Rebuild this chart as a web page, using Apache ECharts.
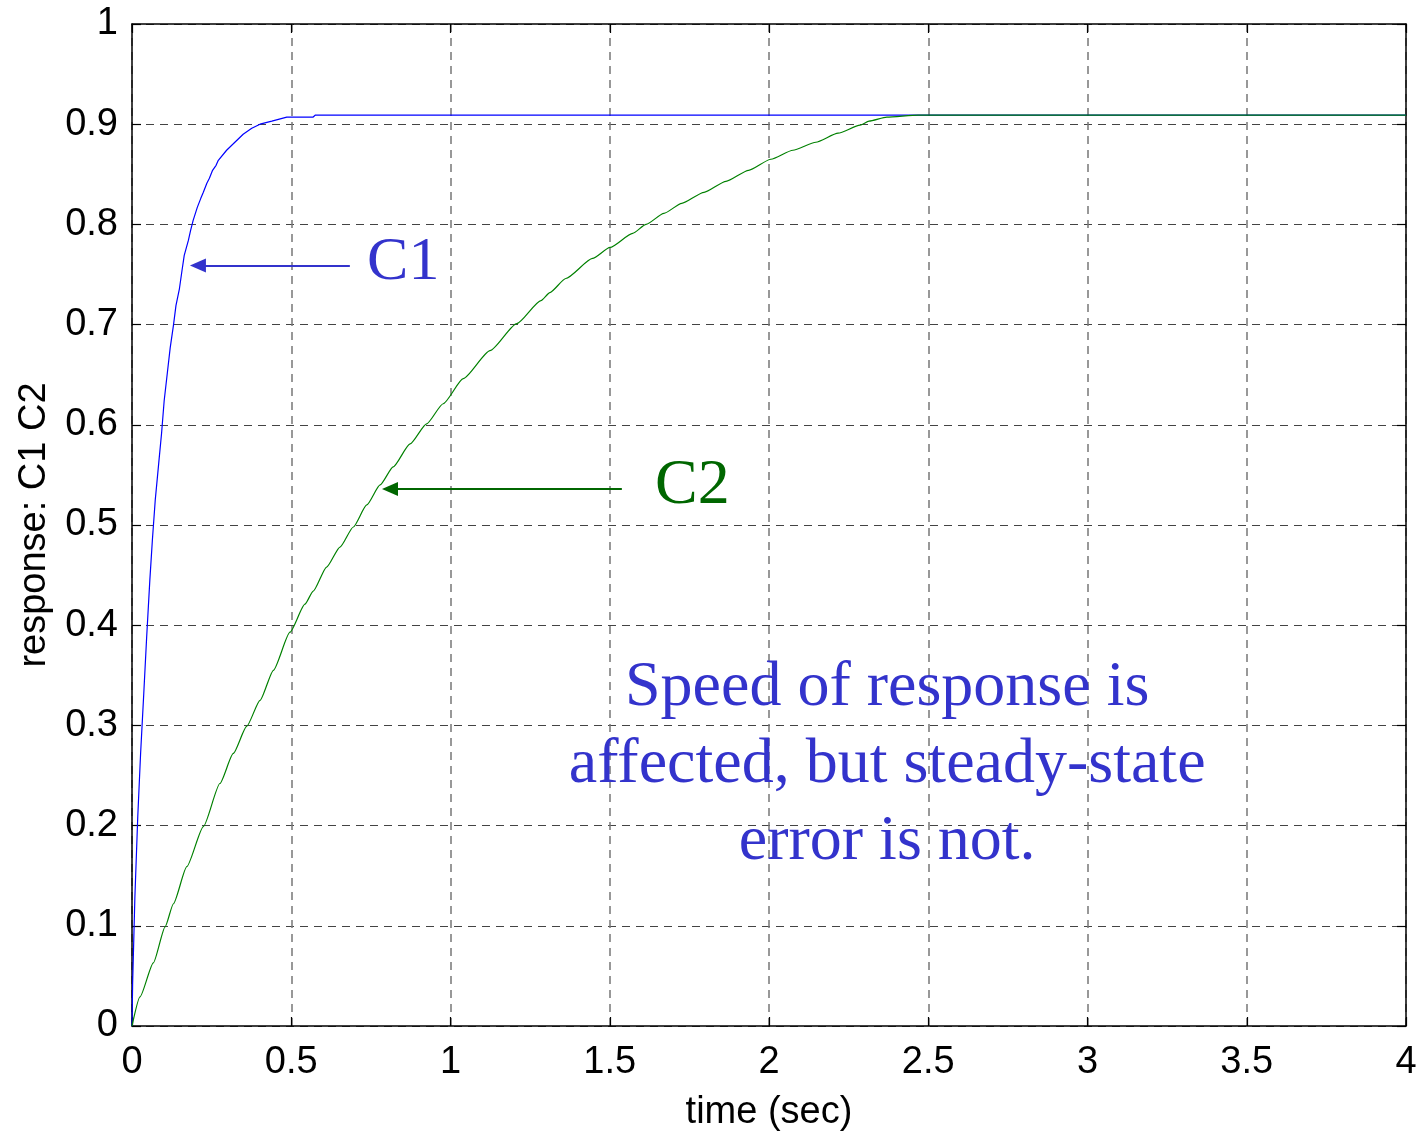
<!DOCTYPE html>
<html>
<head>
<meta charset="utf-8">
<script src="https://cdn.jsdelivr.net/npm/echarts@6/dist/echarts.min.js"></script>
<style>
html,body{margin:0;padding:0;background:#ffffff;}
#c{width:1426px;height:1133px;}
</style>
</head>
<body>
<div id="c"></div>
<script>
// ---- tick labels ----
const xTickLabels = ['0','0.5','1','1.5','2','2.5','3','3.5','4'];
const yTickLabels = ['0','0.1','0.2','0.3','0.4','0.5','0.6','0.7','0.8','0.9','1'];

// ---- series C1 ----
const c1Time = [0, 0.002, 0.009, 0.018, 0.027, 0.037, 0.046, 0.056, 0.064, 0.073, 0.084, 0.093, 0.101, 0.111, 0.120, 0.130, 0.138, 0.149, 0.157, 0.164, 0.177, 0.184, 0.192, 0.205, 0.216, 0.224, 0.235, 0.243, 0.253, 0.264, 0.271, 0.297, 0.323, 0.349, 0.376, 0.402, 0.439, 0.486, 0.568, 0.575, 4];
const c1Value = [0, 0.043, 0.128, 0.208, 0.272, 0.332, 0.388, 0.445, 0.485, 0.525, 0.562, 0.592, 0.624, 0.652, 0.677, 0.699, 0.719, 0.736, 0.754, 0.769, 0.784, 0.794, 0.804, 0.817, 0.826, 0.832, 0.841, 0.846, 0.854, 0.859, 0.864, 0.874, 0.882, 0.890, 0.896, 0.900, 0.903, 0.907, 0.907, 0.909, 0.909];

// ---- series C2 ----
const c2Time = [0, 0.025, 0.067, 0.104, 0.130, 0.172, 0.224, 0.276, 0.318, 0.360, 0.402, 0.444, 0.496, 0.543, 0.569, 0.611, 0.653, 0.695, 0.737, 0.779, 0.820, 0.873, 0.925, 0.977, 1.040, 1.124, 1.208, 1.284, 1.312, 1.362, 1.446, 1.501, 1.572, 1.614, 1.670, 1.726, 1.796, 1.865, 1.936, 2.006, 2.075, 2.147, 2.217, 2.286, 2.314, 2.370, 2.468, 4];
const c2Value = [0, 0.029, 0.063, 0.099, 0.122, 0.159, 0.199, 0.242, 0.272, 0.299, 0.325, 0.355, 0.393, 0.421, 0.434, 0.458, 0.478, 0.498, 0.520, 0.540, 0.558, 0.581, 0.601, 0.621, 0.646, 0.674, 0.701, 0.724, 0.732, 0.746, 0.766, 0.777, 0.791, 0.800, 0.811, 0.821, 0.832, 0.843, 0.854, 0.865, 0.874, 0.882, 0.891, 0.899, 0.903, 0.907, 0.909, 0.909];

// ---- annotations (data coordinates) ----
const c1ArrowFrom = [0.684, 0.759];
const c1ArrowTo = [0.207, 0.759];
const c2ArrowFrom = [1.538, 0.536];
const c2ArrowTo = [0.810, 0.536];
const c1LabelAt = [0.738, 0.762];
const c2LabelAt = [1.642, 0.539];
const noteAt = [2.371, 0.260];
const noteLines = ['Speed of response is', 'affected, but steady-state', 'error is not.'];

const SANS = '"Liberation Sans", Arial, Helvetica, sans-serif';
const SERIF = '"Liberation Serif", "Times New Roman", Times, serif';
const BLUE_TXT = '#3333cc';
const GREEN_TXT = '#006600';

function pairs(ts, vs) { return ts.map((t, i) => [t, vs[i]]); }

const boxLine = { show: true, onZero: false, lineStyle: { color: '#000', width: 1.5 } };
const tick = { show: true, inside: true, length: 9, lineStyle: { color: '#000', width: 1.2 } };

const chart = echarts.init(document.getElementById('c'), null, { renderer: 'canvas' });
const option = {
  animation: false,
  backgroundColor: '#ffffff',
  grid: { left: 132, right: 20, top: 24, bottom: 107, containLabel: false, outerBoundsMode: 'none' },
  xAxis: [
    {
      type: 'value', min: 0, max: 4, interval: 0.5, position: 'bottom',
      axisLine: boxLine, axisTick: tick,
      axisLabel: { show: true, margin: 18, fontSize: 38, fontFamily: SANS, color: '#000',
        formatter: v => xTickLabels[Math.round(v / 0.5)] },
      splitLine: { show: true, lineStyle: { color: '#777', width: 1.5, type: [8, 6] } },
      name: 'time (sec)', nameLocation: 'middle', nameGap: 68,
      nameTextStyle: { fontSize: 38, fontFamily: SANS, color: '#000' }
    },
    {
      type: 'value', min: 0, max: 4, interval: 0.5, position: 'top',
      axisLine: boxLine, axisTick: tick, axisLabel: { show: false }, splitLine: { show: false }
    }
  ],
  yAxis: [
    {
      type: 'value', min: 0, max: 1, interval: 0.1, position: 'left',
      axisLine: boxLine, axisTick: tick,
      axisLabel: { show: true, margin: 14, fontSize: 38, fontFamily: SANS, color: '#000',
        formatter: v => yTickLabels[Math.round(v / 0.1)] },
      splitLine: { show: true, lineStyle: { color: '#444', width: 1, type: [8, 6] } },
      name: 'response: C1 C2', nameLocation: 'middle', nameGap: 78, nameRotate: 90,
      nameTextStyle: { fontSize: 38, fontFamily: SANS, color: '#000' }
    },
    {
      type: 'value', min: 0, max: 1, interval: 0.1, position: 'right',
      axisLine: boxLine, axisTick: tick, axisLabel: { show: false }, splitLine: { show: false }
    }
  ],
  series: [
    {
      name: 'C1', type: 'line', xAxisIndex: 0, yAxisIndex: 0,
      data: pairs(c1Time, c1Value), showSymbol: false, symbol: 'none',
      lineStyle: { color: '#0000ff', width: 1.2 }, itemStyle: { color: '#0000ff' },
      markLine: {
        silent: true, animation: false, symbol: ['none', 'triangle'], symbolSize: [14, 16],
        label: { show: false }, lineStyle: { color: BLUE_TXT, width: 2, type: 'solid' },
        data: [[{ coord: c1ArrowFrom }, { coord: c1ArrowTo }]]
      }
    },
    {
      name: 'C2', type: 'line', xAxisIndex: 0, yAxisIndex: 0,
      data: pairs(c2Time, c2Value), showSymbol: false, symbol: 'none',
      smooth: 0.2, smoothMonotone: 'x',
      lineStyle: { color: '#008000', width: 1.2 }, itemStyle: { color: '#008000' },
      markLine: {
        silent: true, animation: false, symbol: ['none', 'triangle'], symbolSize: [14, 16],
        label: { show: false }, lineStyle: { color: GREEN_TXT, width: 2, type: 'solid' },
        data: [[{ coord: c2ArrowFrom }, { coord: c2ArrowTo }]]
      }
    }
  ]
};
chart.setOption(option);

const toPx = p => chart.convertToPixel({ xAxisIndex: 0, yAxisIndex: 0 }, p);
const p1 = toPx(c1LabelAt), p2 = toPx(c2LabelAt), pn = toPx(noteAt);
chart.setOption({
  graphic: [
    { type: 'text', x: p1[0], y: p1[1], silent: true,
      style: { text: 'C1', fontSize: 62, fontFamily: SERIF, fill: BLUE_TXT, align: 'left', verticalAlign: 'middle' } },
    { type: 'text', x: p2[0], y: p2[1], silent: true,
      style: { text: 'C2', fontSize: 64, fontFamily: SERIF, fill: GREEN_TXT, align: 'left', verticalAlign: 'middle' } },
    { type: 'text', x: pn[0], y: pn[1], silent: true,
      style: { text: noteLines.join('\n'), fontSize: 64, lineHeight: 77, fontFamily: SERIF, fill: BLUE_TXT, align: 'center', verticalAlign: 'middle' } }
  ]
});
</script>
</body>
</html>
